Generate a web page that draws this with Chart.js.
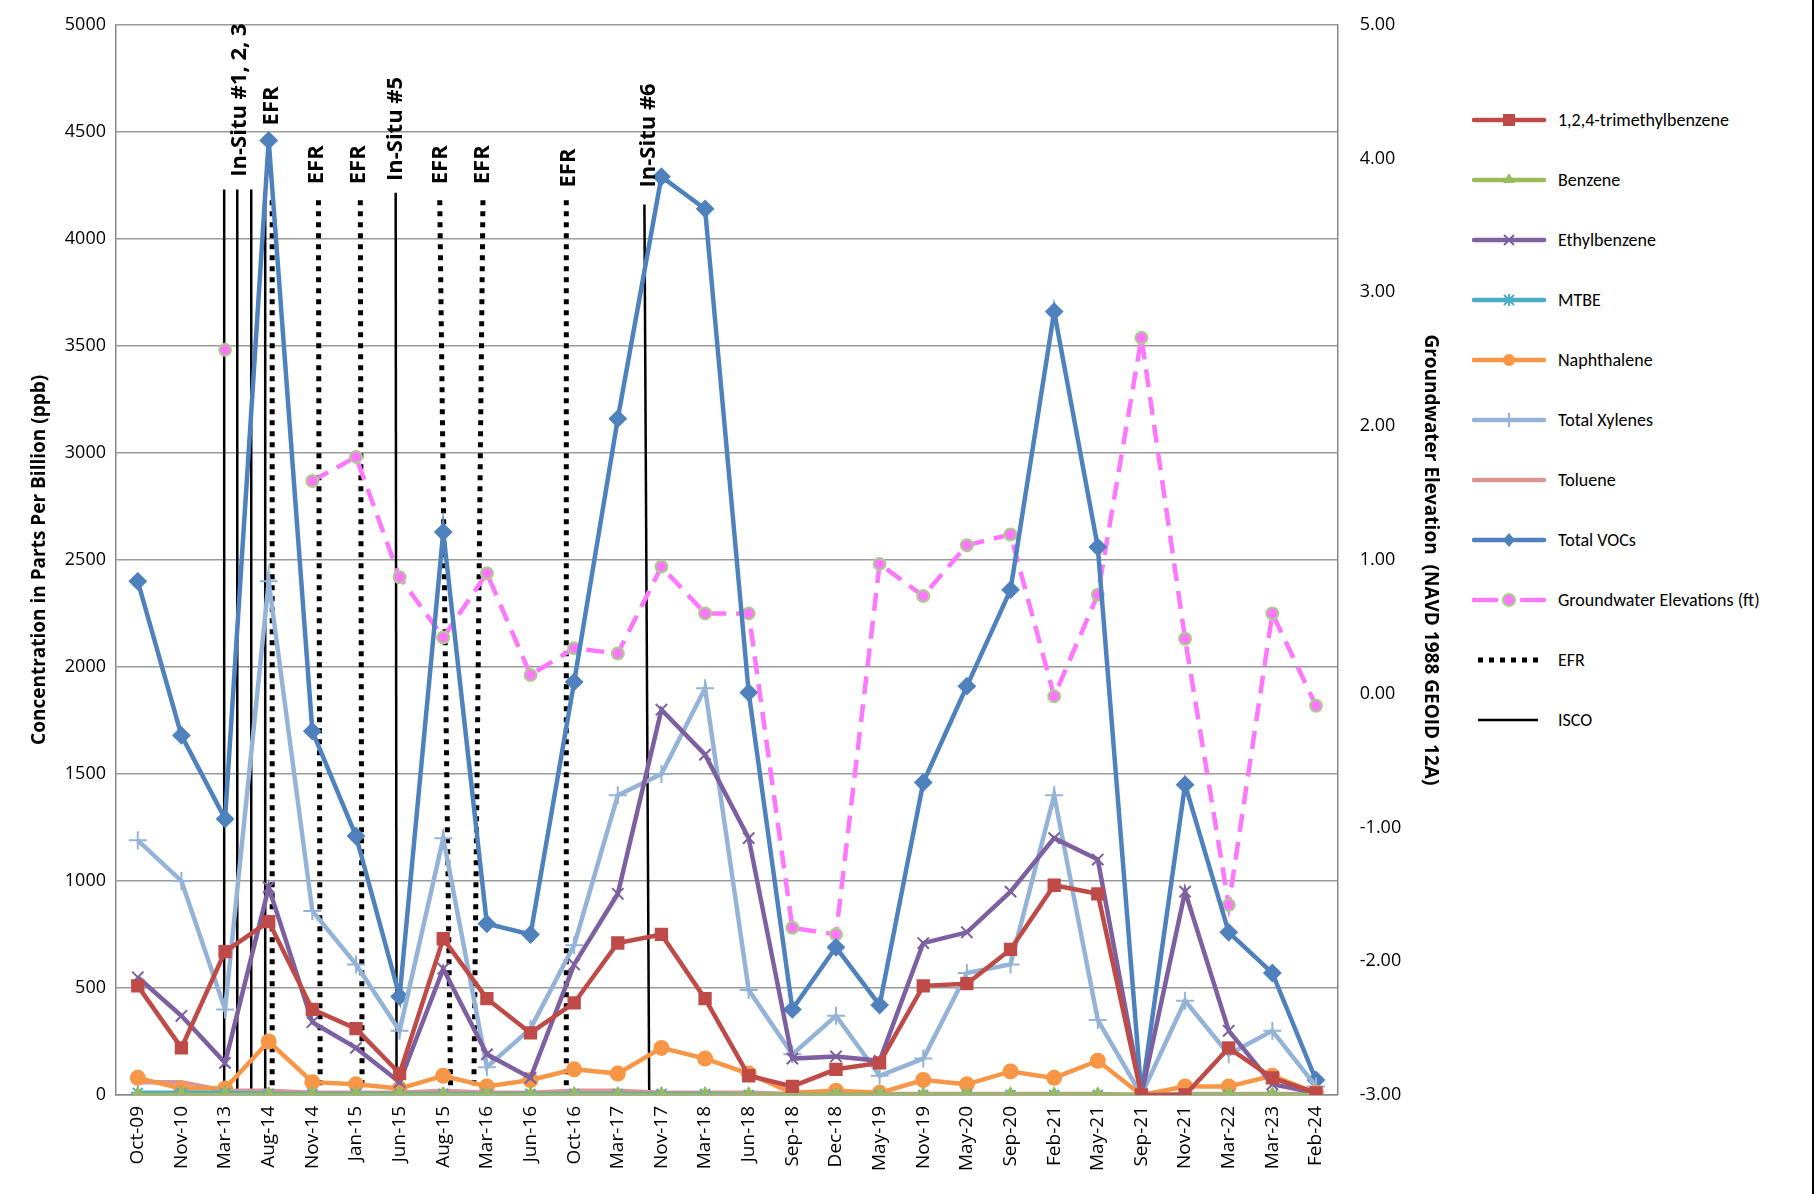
<!DOCTYPE html>
<html>
<head>
<meta charset="utf-8">
<script src="https://cdn.jsdelivr.net/npm/chart.js@4.4.1/dist/chart.umd.min.js"></script>
<style>
  body { margin: 0; background: #fff; font-family: Calibri, 'Open Sans', sans-serif; }
  #wrap { position: relative; width: 1816px; height: 1194px; }
  #cv { position: absolute; left: 0; top: 0; }
  #legend { position: absolute; left: 1472px; top: 90px; font-size: 18px; color: #000; }
  .li { height: 60px; display: flex; align-items: center; }
  .li svg { margin-right: 8px; }
  #edge { position: absolute; left: 1812px; top: 0; width: 2px; height: 1194px; background: #000; }
</style>
</head>
<body>
<div id="wrap">
  <canvas id="cv" width="1460" height="1194"></canvas>
  <div id="legend"></div>
  <div id="edge"></div>
</div>
<script>
/* ── Data ───────────────────────────────────────────────────── */
var dates = ['Oct-09','Nov-10','Mar-13','Aug-14','Nov-14','Jan-15','Jun-15','Aug-15','Mar-16','Jun-16',
             'Oct-16','Mar-17','Nov-17','Mar-18','Jun-18','Sep-18','Dec-18','May-19','Nov-19','May-20',
             'Sep-20','Feb-21','May-21','Sep-21','Nov-21','Mar-22','Mar-23','Feb-24'];

var tmb          = [510,220,670,810,400,310,100,730,450,290,430,710,750,450,90,40,120,150,510,520,680,980,940,0,0,220,80,10];
var benzene      = [0,0,0,0,0,0,0,0,0,0,0,0,0,0,0,0,0,0,0,0,0,0,0,0,0,0,0,0];
var ethylbenzene = [550,370,150,970,340,220,60,590,190,80,610,940,1800,1590,1200,170,180,160,710,760,950,1200,1100,0,950,300,50,10];
var mtbe         = [10,10,10,5,5,5,5,5,5,5,5,5,5,5,0,0,0,0,0,0,0,0,0,0,0,0,0,0];
var naphthalene  = [80,30,30,250,60,50,30,90,40,70,120,100,220,170,100,10,20,10,70,50,110,80,160,0,40,40,90,10];
var xylenes      = [1190,1000,400,2400,860,610,300,1200,130,310,700,1400,1500,1900,490,190,370,90,170,570,610,1400,350,0,440,190,300,40];
var toluene      = [60,60,20,20,10,10,10,20,10,10,20,20,10,10,10,5,10,5,5,5,5,5,5,0,5,5,5,5];
var totalVOCs    = [2400,1680,1290,4460,1700,1210,460,2630,800,750,1930,3160,4290,4140,1880,400,690,420,1460,1910,2360,3660,2560,0,1450,760,570,70];
var gwElev       = [null,null,2.57,null,1.59,1.77,0.87,0.42,0.90,0.14,0.34,0.30,0.95,0.60,0.60,-1.75,-1.80,0.97,0.73,1.11,1.19,-0.02,0.74,2.66,0.41,-1.58,0.60,-0.09];

// remediation events: [x at top, x at bottom, top ppb] in category index units
var isco = [[1.98,1.98,4230],[2.28,2.28,4230],[2.60,2.60,4230],[2.92,2.92,4230],[5.91,5.93,4215],[11.61,11.72,4160]];
var efr  = [[3.08,3.08,4180],[4.14,4.18,4180],[5.10,5.14,4180],[6.92,7.17,4180],[7.91,7.70,4180],[9.82,9.82,4180]];
// rotated labels: [text, x index, ppb at text start]
var eventLabels = [['In-Situ #1, 2, 3',2.33,4290],['EFR',3.07,4530],['EFR',4.10,4255],['EFR',5.07,4255],
                   ['In-Situ #5',5.90,4270],['EFR',6.94,4255],['EFR',7.91,4255],['EFR',9.88,4240],['In-Situ #6',11.72,4240]];

/* ── Datasets ───────────────────────────────────────────────── */
function series(label, data, color, style, extra) {
    var d = {
        label: label, data: data, borderColor: color, backgroundColor: color,
        borderWidth: 4.5, pointStyle: style, pointRadius: 7, pointBorderWidth: 2,
        pointBorderColor: color, yAxisID: 'y', xAxisID: 'x', tension: 0
    };
    for (var k in extra) d[k] = extra[k];
    return d;
}
var datasets = [
    series('1,2,4-trimethylbenzene', tmb, '#BE4B48', 'rect', { pointRadius: 8 }),
    series('Benzene', benzene, '#9BBB59', 'triangle', {}),
    series('Ethylbenzene', ethylbenzene, '#7D60A0', 'crossRot', { pointRadius: 8 }),
    series('MTBE', mtbe, '#4BACC6', 'star', {}),
    series('Naphthalene', naphthalene, '#F79646', 'circle', {}),
    series('Total Xylenes', xylenes, '#95B3D7', 'cross', { pointRadius: 9 }),
    series('Toluene', toluene, '#D99694', 'circle', { pointRadius: 0 }),
    series('Total VOCs', totalVOCs, '#4F81BD', 'rectRot', { pointRadius: 8 }),
    {
        label: 'Groundwater Elevations (ft)', data: gwElev, yAxisID: 'y2', xAxisID: 'x',
        borderColor: '#FF77FF', borderWidth: 4.5, borderDash: [18, 10], spanGaps: false,
        pointStyle: 'circle', pointRadius: 6, pointBackgroundColor: '#FF77FF',
        pointBorderColor: '#A9CF8A', pointBorderWidth: 2
    }
];
isco.forEach(function (v) {
    datasets.push({ label: 'ISCO', data: [{ x: v[0], y: v[2] }, { x: v[1], y: 0 }], xAxisID: 'xl', yAxisID: 'y',
        borderColor: '#000', borderWidth: 2.5, pointRadius: 0 });
});
efr.forEach(function (v) {
    datasets.push({ label: 'EFR', data: [{ x: v[0], y: v[2] }, { x: v[1], y: 0 }], xAxisID: 'xl', yAxisID: 'y',
        borderColor: '#000', borderWidth: 5, borderDash: [5, 6], pointRadius: 0 });
});

/* ── Event label plugin ─────────────────────────────────────── */
var eventText = {
    id: 'eventText',
    afterDatasetsDraw: function (chart) {
        var ctx = chart.ctx, xs = chart.scales.xl, ys = chart.scales.y;
        ctx.save();
        ctx.font = "bold 22px 'Open Sans', sans-serif";
        ctx.fillStyle = '#000';
        ctx.textBaseline = 'middle';
        eventLabels.forEach(function (l) {
            ctx.save();
            ctx.translate(xs.getPixelForValue(l[1]), ys.getPixelForValue(l[2]));
            ctx.rotate(-Math.PI / 2);
            ctx.fillText(l[0], 0, 0);
            ctx.restore();
        });
        ctx.restore();
    }
};

Chart.defaults.font.family = "'Open Sans', sans-serif";
Chart.defaults.color = '#000';

new Chart(document.getElementById('cv'), {
    type: 'line',
    data: { labels: dates, datasets: datasets },
    options: {
        responsive: false, animation: false,
        layout: { padding: { top: 0, right: 0, left: 24, bottom: 20 } },
        plugins: { legend: { display: false }, tooltip: { enabled: false } },
        scales: {
            x: {
                type: 'category', offset: true,
                grid: { display: false },
                border: { color: '#888', width: 1.5 },
                ticks: { font: { size: 19 }, maxRotation: 90, minRotation: 90, autoSkip: false }
            },
            xl: { type: 'linear', display: false, min: -0.5, max: 27.5 },
            y: {
                position: 'left', min: 0, max: 5000,
                ticks: { stepSize: 500, font: { size: 18 }, padding: 10, callback: function (v) { return String(v); } },
                grid: { color: '#999', lineWidth: 1.5, drawTicks: false },
                border: { color: '#888', width: 1.5 },
                title: { display: true, text: 'Concentration in Parts Per Billion (ppb)', font: { size: 19, weight: 'bold' } }
            },
            y2: {
                position: 'right', min: -3, max: 5,
                ticks: { stepSize: 1, font: { size: 18 }, padding: 14, callback: function (v) { return v.toFixed(2); } },
                grid: { display: false },
                border: { color: '#888', width: 1.5 },
                title: { display: true, text: 'Groundwater Elevation  (NAVD 1988 GEOID 12A)', font: { size: 19, weight: 'bold' }, padding: { top: 18 } }
            }
        }
    },
    plugins: [eventText]
});

/* ── Legend ─────────────────────────────────────────────────── */
var legendItems = [
    ['1,2,4-trimethylbenzene', '#BE4B48', 'rect'], ['Benzene', '#9BBB59', 'tri'], ['Ethylbenzene', '#7D60A0', 'x'],
    ['MTBE', '#4BACC6', 'star'], ['Naphthalene', '#F79646', 'circle'], ['Total Xylenes', '#95B3D7', 'plus'],
    ['Toluene', '#D99694', ''], ['Total VOCs', '#4F81BD', 'diamond'], ['Groundwater Elevations (ft)', '#FF77FF', 'gw'],
    ['EFR', '#000', 'efr'], ['ISCO', '#000', 'isco']
];
var html = '';
legendItems.forEach(function (it) {
    var c = it[1], m = '', line = '<line x1="2" y1="12" x2="72" y2="12" stroke="' + c + '" stroke-width="4.5" stroke-linecap="round"/>';
    if (it[2] === 'rect') m = '<rect x="31" y="6" width="12" height="12" fill="' + c + '"/>';
    if (it[2] === 'tri') m = '<polygon points="37,5 43,15 31,15" fill="' + c + '"/>';
    if (it[2] === 'x') m = '<path d="M32 7 L42 17 M42 7 L32 17" stroke="' + c + '" stroke-width="2"/>';
    if (it[2] === 'star') m = '<path d="M32 7 L42 17 M42 7 L32 17 M37 6 L37 18" stroke="' + c + '" stroke-width="2"/>';
    if (it[2] === 'circle') m = '<circle cx="37" cy="12" r="6" fill="' + c + '"/>';
    if (it[2] === 'plus') m = '<path d="M37 5 L37 19" stroke="' + c + '" stroke-width="2"/>';
    if (it[2] === 'diamond') m = '<polygon points="37,5 43,12 37,19 31,12" fill="' + c + '"/>';
    if (it[2] === 'gw') { line = '<line x1="2" y1="12" x2="24" y2="12" stroke="' + c + '" stroke-width="4.5" stroke-linecap="round"/><line x1="50" y1="12" x2="72" y2="12" stroke="' + c + '" stroke-width="4.5" stroke-linecap="round"/>';
        m = '<circle cx="37" cy="12" r="6" fill="' + c + '" stroke="#A9CF8A" stroke-width="2"/>'; }
    if (it[2] === 'efr') line = '<line x1="6" y1="12" x2="66" y2="12" stroke="#000" stroke-width="5" stroke-dasharray="5,6"/>';
    if (it[2] === 'isco') line = '<line x1="6" y1="12" x2="66" y2="12" stroke="#000" stroke-width="2.5"/>';
    html += '<div class="li"><svg width="78" height="24">' + line + m + '</svg>' + it[0] + '</div>';
});
document.getElementById('legend').innerHTML = html;
</script>
</body>
</html>
